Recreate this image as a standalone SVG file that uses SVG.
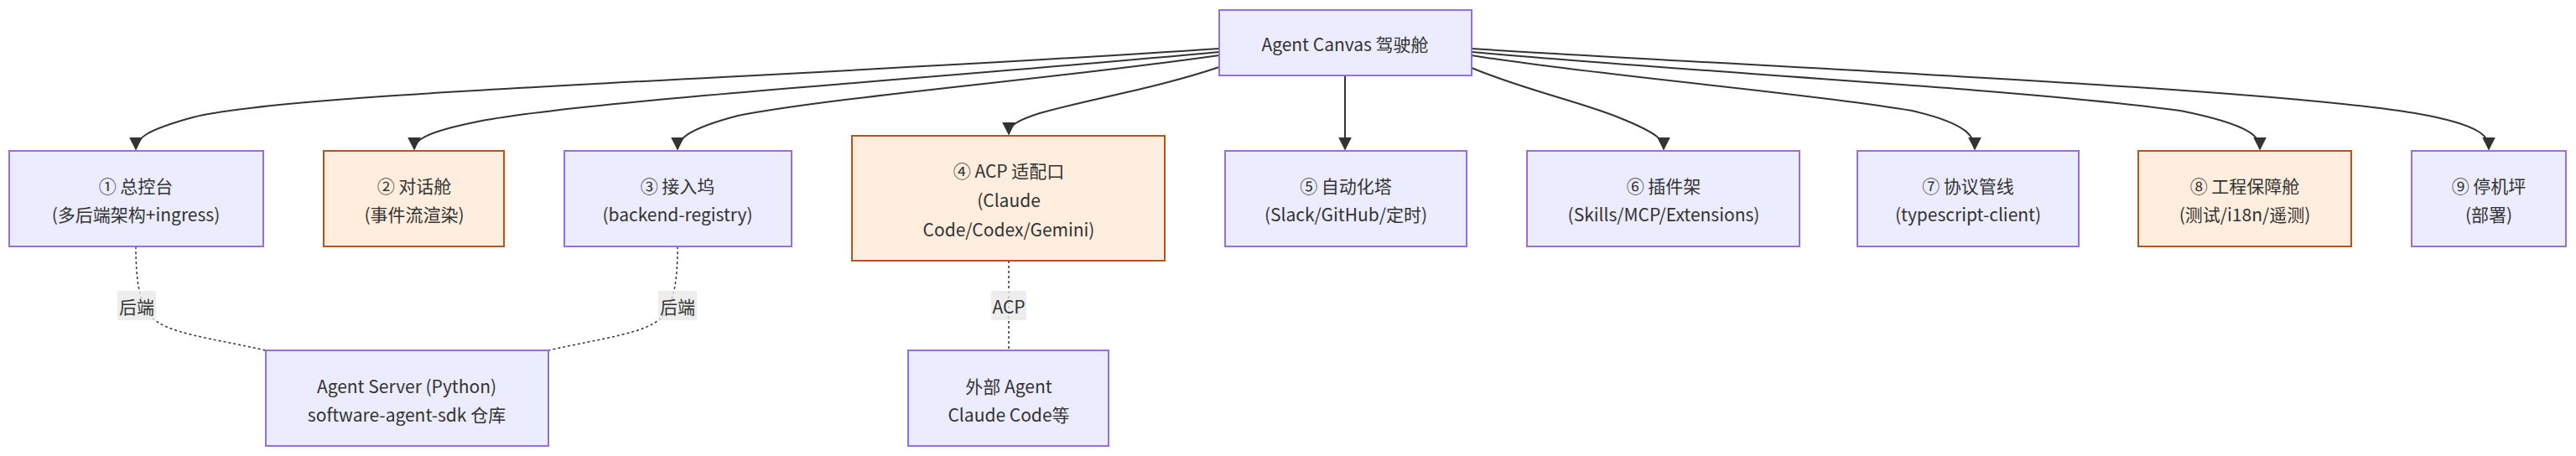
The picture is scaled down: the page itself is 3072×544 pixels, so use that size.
<svg xmlns="http://www.w3.org/2000/svg" width="3072" height="544" viewBox="0 0 3072 544">
<style>
.b{fill:#ECECFF;stroke:#9370DB;stroke-width:2}
.o{fill:#FFEEDD;stroke:#B5541B;stroke-width:2}
text{font-family:"Noto Sans CJK SC","Liberation Sans",sans-serif;font-size:21px;fill:#333;text-anchor:middle;dominant-baseline:central}
.e{fill:none;stroke:#333;stroke-width:2}
.d{fill:none;stroke:#333;stroke-width:1.5;stroke-dasharray:3,3}
.lb{fill:#E8E8E8;opacity:0.8}
</style>
<defs><marker id="a" viewBox="0 0 10 10" refX="9" refY="5" markerWidth="8" markerHeight="8" orient="auto"><path d="M0,0L10,5L0,10z" fill="#333"/></marker></defs>
<g id="connectors">
<path class="e" marker-end="url(#a)" d="M1454,58 C900,95 350,110 230,140 C175,155 162,165 162,178"/>
<path class="e" marker-end="url(#a)" d="M1454,62 C1100,95 700,120 570,145 C505,158 494,168 494,178"/>
<path class="e" marker-end="url(#a)" d="M1454,66 C1250,95 1000,115 880,138 C815,155 808,168 808,178"/>
<path class="e" marker-end="url(#a)" d="M1454,80 C1380,105 1300,118 1240,135 C1208,145 1203,152 1203,160"/>
<path class="e" marker-end="url(#a)" d="M1604,90 L1604,178"/>
<path class="e" marker-end="url(#a)" d="M1755,81 C1820,108 1880,120 1930,140 C1980,160 1984,168 1984,178"/>
<path class="e" marker-end="url(#a)" d="M1755,66 C1900,90 2150,110 2280,132 C2350,148 2355,165 2355,178"/>
<path class="e" marker-end="url(#a)" d="M1755,62 C2000,85 2400,105 2600,132 C2690,150 2695,165 2695,178"/>
<path class="e" marker-end="url(#a)" d="M1755,58 C2100,80 2700,105 2880,135 C2966,150 2968,165 2968,178"/>
<path class="d" d="M162,294 C162,335 166,360 180,378 C200,398 250,403 317,418"/>
<path class="d" d="M808,294 C808,335 804,360 790,378 C770,398 720,403 654,418"/>
<path class="d" d="M1203,311 L1203,418"/>
<rect class="lb" x="140" y="347" width="46" height="35"/><text x="163" y="365">后端</text>
<rect class="lb" x="785" y="347" width="46" height="35"/><text x="808" y="365">后端</text>
<rect class="lb" x="1182" y="347" width="42" height="35"/><text x="1203" y="365">ACP</text>
</g>
<g id="top"><rect class="b" x="1454" y="12" width="301" height="78"/><text x="1604" y="52">Agent Canvas 驾驶舱</text></g>
<g id="n1"><rect class="b" x="11" y="180" width="303" height="114"/><text x="162" y="221">① 总控台</text><text x="162" y="255">(多后端架构+ingress)</text></g>
<g id="n2"><rect class="o" x="386" y="180" width="215" height="114"/><text x="494" y="221">② 对话舱</text><text x="494" y="255">(事件流渲染)</text></g>
<g id="n3"><rect class="b" x="673" y="180" width="271" height="114"/><text x="808" y="221">③ 接入坞</text><text x="808" y="255">(backend-registry)</text></g>
<g id="n4"><rect class="o" x="1016" y="162" width="373" height="149"/><text x="1203" y="203">④ ACP 适配口</text><text x="1203" y="238">(Claude</text><text x="1203" y="273">Code/Codex/Gemini)</text></g>
<g id="n5"><rect class="b" x="1461" y="180" width="288" height="114"/><text x="1605" y="221">⑤ 自动化塔</text><text x="1605" y="255">(Slack/GitHub/定时)</text></g>
<g id="n6"><rect class="b" x="1821" y="180" width="325" height="114"/><text x="1984" y="221">⑥ 插件架</text><text x="1984" y="255">(Skills/MCP/Extensions)</text></g>
<g id="n7"><rect class="b" x="2215" y="180" width="264" height="114"/><text x="2347" y="221">⑦ 协议管线</text><text x="2347" y="255">(typescript-client)</text></g>
<g id="n8"><rect class="o" x="2550" y="180" width="254" height="114"/><text x="2677" y="221">⑧ 工程保障舱</text><text x="2677" y="255">(测试/i18n/遥测)</text></g>
<g id="n9"><rect class="b" x="2876" y="180" width="184" height="114"/><text x="2968" y="221">⑨ 停机坪</text><text x="2968" y="255">(部署)</text></g>
<g id="srv"><rect class="b" x="317" y="418" width="337" height="114"/><text x="485" y="460">Agent Server (Python)</text><text x="485" y="494">software-agent-sdk 仓库</text></g>
<g id="ext"><rect class="b" x="1083" y="418" width="239" height="114"/><text x="1203" y="460">外部 Agent</text><text x="1203" y="494">Claude Code等</text></g>
</svg>
